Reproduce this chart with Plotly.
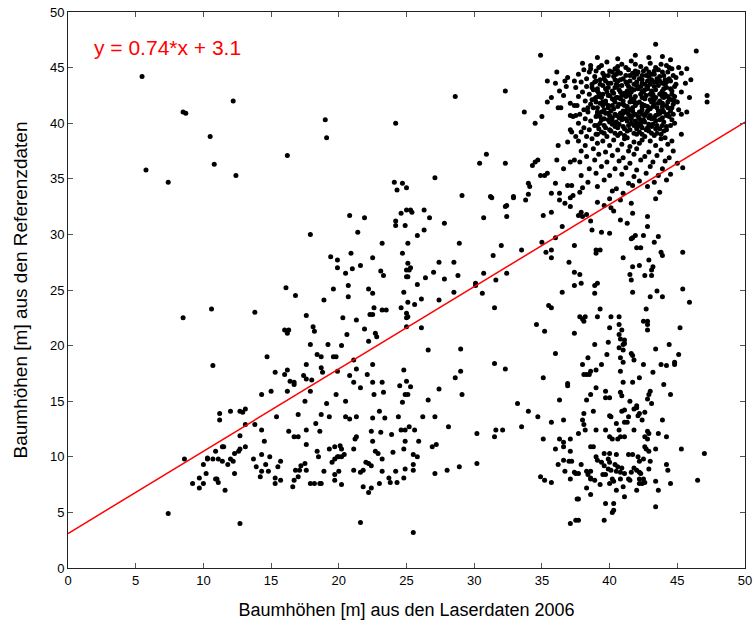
import plotly.graph_objects as go

# ---------------- data ----------------
upper_left = [(5.47,44.2),(5.76,35.8),(7.4,34.7),(8.5,41.0),(8.7,40.9),(10.5,38.8),(10.8,36.3),
    (12.2,42.0),(12.4,35.3),(19.0,40.3),(19.1,38.7),(16.2,37.1),(24.2,40.0),(24.1,34.7),(24.7,34.6),
    (24.3,34.0),(25.0,34.2),(8.5,22.5),(10.6,23.3),(10.7,18.2)]

upper_mid = [(34.9,46.1),(28.6,42.4),(32.3,42.9),(33.7,41.0),(34.5,40.0),(35.0,40.6),(30.9,37.2),
    (30.4,36.4),(32.3,36.4),(27.1,35.1),(29.1,33.5),(31.2,33.4),(32.9,33.4),
    (36.1,44.6),(35.4,43.8),(36.0,43.6),(36.7,43.8),(36.9,44.1),(37.4,43.8),(36.8,43.3),(36.3,42.9),
    (36.6,42.5),(35.7,42.3),(35.4,41.9),(36.2,41.4),(36.4,41.4),(37.1,41.8),(37.4,41.6),(37.1,40.7),
    (37.3,40.6),(37.5,40.7),(37.1,39.4),(37.2,39.2),(37.5,38.8),(36.9,38.3),(36.2,38.0),(36.1,36.7),
    (37.1,36.5),(37.4,36.7),(34.3,36.2),(34.5,36.5),(34.7,36.7),(36.6,35.9),(34.9,35.3),(35.2,35.3),
    (35.4,35.5),(36.0,34.6),(36.9,34.4),(37.2,34.4),(34.0,34.6),(34.1,34.3),(34.0,33.6),(35.7,33.7),
    (36.3,33.7),(37.3,33.5)]

middle_left = [(20.8,31.7),(21.9,31.5),(17.9,30.0),(21.4,30.2),(24.6,31.9),(24.2,31.2),(24.2,30.8),
    (24.9,30.8),(25.0,32.2),(23.2,29.2),(24.7,28.3),(20.9,28.3),(19.4,28.0),(19.9,27.7),(22.5,27.9),
    (19.9,27.0),(21.0,26.9),(21.6,27.2),(20.5,26.5),(23.1,26.7),(23.3,26.3),(25.0,26.8),(25.0,26.2),
    (16.1,25.2),(16.8,24.5),(19.6,25.1),(20.7,25.4),(22.2,25.1),(22.5,24.7),(20.7,24.4),(18.9,24.1),
    (24.8,24.8),(13.8,23.0),(22.6,23.4),(23.2,23.2),(23.5,23.2),(24.6,23.4),(22.3,22.8),(22.5,22.8),
    (25.0,22.9),(25.0,22.5),(17.6,22.7),(20.3,22.5),(21.3,22.3),(16.0,21.4),(16.3,21.4),(16.2,21.1),
    (18.1,21.7),(18.2,21.3),(20.6,21.0),(21.9,21.5),(22.7,21.1),(22.8,20.8),(22.2,20.4),(25.0,21.7),
    (17.9,20.1),(19.2,20.1),(20.2,20.0),(14.7,19.0),(18.4,19.2),(18.7,19.0),(19.6,19.0),(19.8,19.0),
    (21.1,18.7),(17.6,18.3),(18.7,18.0),(18.8,17.6),(19.9,17.7),(21.3,17.9),(22.5,18.3),(24.8,17.8),
    (15.3,17.6),(16.0,17.4),(16.2,17.8),(16.4,16.8),(16.7,16.7),(17.4,17.3),(17.6,17.0),(18.0,16.9),
    (20.8,17.3),(22.1,17.4),(21.1,16.7),(22.5,16.7),(23.2,16.7),(25.0,16.8)]

middle_center = [(25.3,32.2),(25.4,32.0),(26.3,32.2),(26.7,31.5),(31.3,33.3),(32.4,32.6),(32.3,32.5),
    (33.8,33.1),(32.9,33.3),(36.3,33.1),(37.1,33.3),(36.7,32.8),(37.1,32.5),(30.7,31.5),(32.4,31.6),
    (27.8,31.0),(35.1,31.7),(35.7,32.0),(37.7,31.7),(26.3,30.4),(25.8,29.9),(25.1,29.2),(28.9,29.2),
    (32.0,29.0),(31.4,28.1),(33.5,28.6),(35.0,29.3),(36.5,30.7),(36.0,29.7),(35.3,28.4),(35.7,28.6),
    (35.7,27.9),(37.4,29.0),(25.1,27.4),(25.3,27.0),(25.2,26.8),(27.4,27.5),(28.5,27.5),(27.0,26.6),
    (28.8,26.3),(26.4,26.1),(25.8,25.5),(25.1,26.2),(27.8,26.0),(30.7,26.5),(31.6,25.9),(32.4,26.5),
    (30.1,25.6),(30.1,25.4),(30.6,24.7),(28.5,24.8),(37.0,27.5),(37.4,26.6),(37.4,25.4),(36.5,24.8),
    (25.1,23.9),(25.6,23.7),(26.1,24.2),(27.4,24.1),(25.1,22.6),(26.1,21.6),(31.5,23.4),(35.5,23.6),
    (35.7,23.4),(34.6,21.9),(35.2,21.3),(37.4,21.1),(26.6,19.6),(29.0,19.7),(36.0,19.3),(31.5,18.4),
    (32.3,17.9),(29.0,17.7),(28.6,17.1),(35.1,17.1),(36.9,16.6)]

middle_right = [(39.1,32.9),(39.6,32.6),(40.0,33.2),(40.8,33.1),(41.6,32.8),(43.4,33.2),(40.1,32.4),
    (40.3,32.1),(37.9,32.0),(38.3,31.8),(38.0,31.6),(41.7,31.9),(42.8,31.6),(40.8,31.3),(41.3,31.0),
    (38.6,31.2),(42.8,30.7),(38.7,30.4),(39.4,30.2),(40.0,30.1),(41.9,29.9),(41.7,29.7),(41.6,29.6),
    (42.5,29.9),(43.6,29.8),(43.3,29.3),(42.0,28.8),(42.3,28.8),(39.0,28.6),(39.3,28.6),(39.0,28.3),
    (43.8,28.4),(43.9,28.1),(45.4,28.4),(41.0,27.9),(42.9,27.7),(42.2,27.2),(41.7,27.1),(43.2,27.1),
    (43.1,26.8),(37.8,26.4),(41.5,26.4),(41.6,25.9),(42.6,26.3),(43.1,26.3),(37.9,25.6),(38.9,25.4),
    (39.1,25.6),(38.9,24.7),(45.4,25.1),(41.7,24.8),(43.5,24.9),(43.9,24.4),(43.0,24.4),(45.9,23.9),
    (39.3,23.3),(42.7,23.3),(37.8,22.6),(38.0,22.4),(38.1,22.2),(38.2,22.6),(39.1,22.6),(40.1,22.6),
    (40.7,22.6),(42.5,22.2),(42.8,22.2),(42.8,21.9),(42.8,21.4),(40.7,21.9),(40.9,21.4),(40.0,21.6),
    (45.2,21.6),(40.7,21.0),(40.8,20.6),(41.1,20.5),(41.1,20.2),(41.0,20.1),(38.9,20.1),(39.9,20.3),
    (40.7,19.8),(41.0,19.6),(43.4,19.7),(44.4,20.1),(38.4,18.9),(39.8,19.2),(41.6,19.3),(41.7,19.1),
    (40.8,18.9),(41.0,18.5),(41.8,18.7),(45.1,19.2),(38.0,18.3),(39.4,18.3),(39.0,17.8),(38.6,17.7),
    (42.5,18.3),(43.8,18.3),(44.2,18.2),(44.8,18.3),(44.8,18.5),(40.8,17.7),(43.2,17.6),(38.1,17.4),
    (38.3,17.4),(38.5,17.4),(42.2,17.1),(41.0,16.7),(41.7,16.7)]

lower_left = [(11.2,13.9),(11.2,13.3),(12.0,14.1),(8.6,9.8),(7.4,4.9),(11.4,10.9),(11.5,10.9),
    (10.9,10.5),(10.3,9.9),(10.3,9.8),(10.7,9.8),(11.1,9.8),(11.4,9.6),(12.0,9.8),(12.2,9.6),
    (12.3,10.3),(10.0,9.3),(11.8,9.3),(10.2,8.5),(12.3,8.5),(9.7,8.1),(10.9,8.0),(11.0,8.0),
    (9.2,7.6),(10.0,7.6),(11.1,7.7),(9.7,7.2),(11.6,7.0)]

lower_mid = [(12.7,14.1),(12.9,14.0),(13.1,14.3),(14.3,15.6),(15.0,15.9),(16.2,15.9),(17.9,15.9),
    (16.7,16.5),(17.5,15.0),(19.8,15.6),(20.5,15.0),(19.1,14.8),(21.6,16.2),(22.6,15.6),(23.3,15.8),
    (24.5,16.4),(24.9,15.6),(24.7,14.9),(13.1,12.9),(13.8,12.9),(15.4,13.6),(17.0,13.8),(18.3,13.0),
    (18.7,13.8),(19.3,13.6),(20.5,13.6),(20.8,13.4),(21.3,13.6),(22.5,13.5),(23.0,14.1),(23.4,13.5),
    (24.4,13.6),(12.7,11.9),(12.6,10.5),(12.7,10.7),(13.1,10.9),(14.3,12.4),(14.5,11.4),(16.3,12.3),
    (16.7,11.8),(17.0,11.8),(17.6,12.4),(17.6,11.1),(18.6,12.3),(18.4,10.5),(18.5,10.0),(19.3,10.7),
    (19.7,10.9),(20.1,11.0),(20.2,10.7),(21.1,10.7),(21.2,11.6),(21.3,11.8),(22.4,12.3),(22.5,11.4),
    (23.1,12.2),(23.9,12.0),(24.6,12.4),(24.9,12.4),(24.9,11.4),(24.8,10.7),(22.7,10.5),(22.9,10.3),
    (24.0,10.4),(13.7,9.8),(14.3,10.2),(14.9,10.0),(15.7,9.6),(15.5,9.1),(13.9,9.1),(14.3,8.7),
    (14.6,9.3),(14.8,8.7),(14.2,8.2),(15.3,8.1),(15.3,7.6),(15.7,7.9),(16.8,8.8),(17.1,8.8),
    (17.2,9.2),(17.5,9.4),(17.6,8.8),(17.0,8.2),(16.7,7.9),(16.6,7.3),(17.9,7.6),(18.2,7.6),
    (18.6,7.6),(18.7,7.6),(18.9,8.7),(19.5,9.5),(19.7,9.8),(19.9,10.0),(20.0,10.0),(20.2,10.0),
    (20.4,10.2),(20.0,8.7),(19.7,8.4),(19.7,7.9),(20.2,7.5),(21.1,8.8),(21.6,8.6),(21.8,8.8),
    (21.8,7.3),(22.2,6.8),(22.4,7.2),(22.0,9.5),(22.2,9.4),(22.4,9.2),(23.2,9.8),(23.2,8.7),
    (23.0,7.6),(23.7,8.1),(23.8,7.7),(24.3,7.7),(24.2,8.7),(24.9,8.9),(24.8,8.1),(12.7,4.0),(21.6,4.1)]

lower_center = [(25.3,16.3),(25.1,15.6),(27.4,16.1),(26.6,15.1),(29.1,15.6),(26.2,13.6),(27.1,13.6),
    (25.2,12.7),(25.6,12.4),(28.1,12.7),(25.9,11.4),(26.9,10.9),(27.2,11.1),(25.5,10.2),(25.8,10.0),
    (25.5,9.3),(25.5,8.8),(27.1,8.5),(28.0,8.8),(28.9,9.1),(30.2,12.1),(30.2,9.4),(31.5,11.8),
    (31.6,12.4),(32.1,12.4),(33.2,14.8),(34.0,14.1),(34.7,13.6),(33.5,12.7),(35.1,11.6),(35.7,13.1),
    (36.3,15.1),(36.9,16.4),(36.6,13.3),(36.3,11.6),(36.6,11.3),(37.1,11.6),(36.0,10.7),(36.6,10.9),
    (37.1,10.5),(36.6,9.7),(37.0,9.6),(37.2,9.6),(36.2,9.3),(36.7,8.7),(37.4,8.6),(37.5,8.5),
    (37.1,8.0),(34.9,8.2),(35.2,7.9),(35.7,7.7),(37.6,6.2),(37.5,4.3),(37.1,4.0),(25.5,3.2)]

lower_right = [(39.0,16.2),(39.7,15.9),(39.7,15.3),(40.0,15.3),(38.6,15.6),(38.3,15.1),(40.8,15.8),
    (40.9,15.5),(41.5,15.0),(42.0,14.6),(42.0,14.4),(41.8,14.3),(42.8,15.2),(43.0,15.9),(42.9,15.6),
    (43.1,14.8),(44.0,16.5),(44.5,15.6),(38.8,14.1),(38.1,13.9),(38.0,13.3),(40.9,14.1),(41.1,14.2),
    (40.0,13.7),(40.1,13.6),(42.2,13.9),(42.1,13.7),(42.6,14.0),(41.4,13.6),(41.3,13.1),(41.1,13.1),
    (42.4,13.3),(43.9,13.3),(38.1,12.9),(38.2,12.4),(37.7,12.1),(39.0,12.4),(39.7,12.4),(40.5,13.0),
    (40.7,12.4),(41.8,12.4),(42.8,12.3),(42.9,12.1),(43.6,12.1),(44.2,11.8),(40.0,11.8),(40.2,11.6),
    (40.6,11.6),(40.8,11.8),(41.1,11.8),(42.6,11.8),(42.8,11.6),(38.6,10.9),(38.8,10.9),(42.6,10.9),
    (42.7,10.7),(42.9,10.5),(43.4,10.7),(45.3,10.7),(47.0,10.3),(39.6,10.3),(40.0,10.3),(40.5,10.2),
    (41.4,10.2),(41.7,10.2),(39.0,10.0),(39.1,9.7),(39.9,9.8),(40.0,9.5),(42.1,10.0),(42.2,9.6),
    (42.5,9.8),(43.0,9.6),(37.9,9.3),(39.4,9.5),(39.6,9.2),(40.4,9.3),(40.6,9.1),(40.9,9.0),
    (44.2,9.3),(44.3,8.8),(38.3,8.7),(38.6,8.7),(38.4,8.4),(39.9,8.9),(40.1,8.8),(40.5,8.7),
    (40.8,8.6),(41.1,8.5),(41.6,8.6),(41.8,9.0),(42.0,8.8),(42.2,8.6),(42.3,8.5),(42.9,8.9),
    (39.5,8.4),(39.7,8.4),(38.6,8.0),(38.9,7.9),(38.6,8.1),(40.2,8.0),(40.8,8.0),(41.4,8.0),
    (41.5,7.9),(42.2,8.0),(42.5,8.0),(42.6,7.7),(42.2,7.6),(42.4,7.6),(43.4,7.8),(44.5,7.6),
    (46.5,7.9),(37.7,8.5),(40.0,7.6),(40.3,7.8),(39.3,7.5),(38.3,7.2),(40.5,7.0),(41.0,7.3),
    (42.0,7.0),(43.6,7.0),(38.6,6.6),(41.1,6.4),(37.7,6.2),(39.7,5.8),(40.3,5.8),(40.2,5.0),
    (40.3,5.2),(43.4,5.5),(39.6,4.3),(37.7,4.3)]

cluster_edge = [(43.4,47.1),(46.4,46.5),(38.0,45.4),(42.9,45.9),(43.9,46.0),(47.2,42.5),(47.2,41.9),
    (45.3,40.8),(45.3,39.0),(40.6,45.8),(41.9,46.1),(44.5,45.7),(39.1,45.9),(45.7,44.9),(46.0,43.9),
    (45.9,42.3),(45.7,41.0)]

cluster_rows = [(38.6,45.2),(39.8,45.5),(40.9,45.3),(41.6,45.6),(42.3,45.1),(43.0,45.4),(44.2,45.2),(45.1,45.0),
    (38.1,44.8),(39.2,45.0),(40.4,44.9),(41.2,45.0),(41.9,44.7),(42.7,44.9),(43.4,45.0),(43.9,44.6),(44.6,44.9),
    (37.7,44.4),(38.5,44.6),(39.6,44.3),(40.0,44.7),(40.8,44.5),(41.5,44.3),(42.1,44.6),(43.1,44.4),
    (43.7,44.2),(44.3,44.6),(45.3,44.5),
    (38.3,44.0),(38.9,44.2),(39.3,43.9),(40.3,44.2),(41.0,44.0),(41.8,44.1),(42.4,43.9),(42.9,44.2),
    (43.5,44.0),(44.1,43.9),(44.9,44.1),
    (37.9,43.7),(38.7,43.5),(39.7,43.8),(40.1,43.6),(40.6,43.8),(41.3,43.5),(42.0,43.7),(42.6,43.5),
    (43.3,43.7),(43.9,43.6),(44.5,43.8),(45.6,43.6),
    (37.5,43.2),(38.3,43.3),(39.1,43.1),(39.5,43.4),(40.4,43.2),(40.9,43.4),(41.6,43.1),(42.3,43.3),
    (42.8,43.1),(43.6,43.4),(44.2,43.2),(44.8,43.3),
    (38.0,42.8),(38.8,43.0),(39.8,42.8),(40.2,42.9),(41.1,42.7),(41.8,43.0),(42.5,42.8),(43.1,42.9),
    (43.8,42.7),(44.6,42.9),(45.3,42.8),
    (37.7,42.4),(38.5,42.6),(39.2,42.4),(39.9,42.5),(40.6,42.3),(41.4,42.6),(41.9,42.4),(42.7,42.5),
    (43.4,42.3),(44.1,42.6),(44.8,42.4),
    (38.2,42.0),(38.9,42.2),(39.5,41.9),(40.3,42.1),(41.0,42.0),(41.6,42.2),(42.2,41.9),(43.0,42.1),
    (43.7,42.0),(44.4,42.2),(45.0,41.9),
    (37.6,41.6),(38.6,41.7),(39.3,41.8),(39.9,41.6),(40.7,41.7),(41.3,41.5),(42.0,41.8),(42.6,41.6),
    (43.3,41.7),(43.9,41.5),(44.7,41.7),
    (38.1,41.2),(38.8,41.4),(39.6,41.2),(40.3,41.3),(41.0,41.1),(41.7,41.4),(42.4,41.2),(43.0,41.3),
    (43.6,41.1),(44.3,41.4),(45.1,41.2),
    (37.8,40.8),(38.4,41.0),(39.1,40.8),(39.9,40.9),(40.5,40.7),(41.2,41.0),(41.9,40.8),(42.7,40.9),
    (43.4,40.7),(44.0,41.0),(44.7,40.8),
    (38.2,40.4),(39.0,40.6),(39.6,40.4),(40.2,40.5),(40.9,40.3),(41.5,40.6),(42.2,40.4),(42.9,40.5),
    (43.7,40.3),(44.4,40.6),
    (37.7,40.0),(38.6,40.2),(39.3,40.0),(40.0,40.1),(40.7,39.9),(41.3,40.2),(42.0,40.0),(42.6,40.1),
    (43.2,39.9),(44.0,40.1),(44.8,40.0),
    (38.1,39.6),(38.9,39.8),(39.7,39.6),(40.4,39.7),(41.1,39.5),(41.8,39.8),(42.4,39.6),(43.1,39.7),
    (43.7,39.5),(44.5,39.8),
    (37.9,39.2),(38.5,39.4),(39.4,39.2),(40.1,39.3),(40.8,39.1),(41.5,39.4),(42.2,39.2),(42.9,39.3),
    (43.5,39.1),(44.2,39.4),
    (38.3,38.8),(39.1,39.0),(39.8,38.8),(40.6,38.9),(41.3,38.7),(42.0,39.0),(42.6,38.8),(43.3,38.9),(44.1,38.7),
    (37.7,38.4),(38.7,38.6),(39.5,38.4),(40.3,38.5),(41.1,38.6),(41.8,38.3),(42.4,38.5),(43.0,38.4),
    (43.8,38.6),(44.6,38.4),
    (38.2,38.0),(39.1,38.2),(40.0,38.0),(40.9,38.1),(41.5,37.9),(42.2,38.2),(43.4,38.0),(44.3,38.1)]

cluster_fill = [(39.0,44.7),(40.2,44.6),(41.4,44.8),(42.5,44.7),(43.6,44.8),
    (39.9,44.3),(40.5,44.4),(41.2,44.3),(42.0,44.4),(42.7,44.3),(43.3,44.4),(44.7,44.3),
    (39.0,43.8),(39.6,44.0),(40.8,43.9),(41.5,43.8),(42.2,44.0),(43.1,43.9),(43.7,43.8),(44.4,44.0),
    (39.3,43.5),(39.9,43.6),(40.6,43.4),(41.8,43.5),(42.4,43.6),(43.0,43.5),(44.1,43.5),(44.9,43.5),
    (39.1,42.9),(39.9,43.2),(40.7,43.0),(41.3,42.9),(42.1,43.1),(42.8,43.3),(43.4,43.0),(44.0,43.1),
    (39.5,42.6),(40.3,42.7),(40.9,42.5),(41.6,42.8),(42.3,42.6),(43.2,42.6),(43.9,42.4),(44.6,42.6),
    (39.0,42.3),(39.7,42.0),(40.5,42.3),(41.2,42.4),(41.8,42.1),(42.6,42.2),(43.3,42.1),(44.0,42.3),(44.8,42.0),
    (39.0,41.9),(39.7,41.8),(40.4,41.9),(41.0,41.7),(41.8,41.9),(42.4,41.7),(43.1,41.9),(43.6,41.8),(44.3,41.9),
    (39.1,41.4),(39.9,41.4),(40.6,41.5),(41.3,41.3),(41.9,41.6),(42.8,41.5),(43.5,41.4),(44.2,41.6),
    (39.4,41.0),(40.1,41.1),(40.8,40.9),(41.5,41.2),(42.2,41.0),(42.8,41.1),(43.7,40.9),(44.5,41.1),
    (39.3,40.6),(40.0,40.7),(40.7,40.5),(41.4,40.8),(42.1,40.6),(42.6,40.7),(43.3,40.5),(44.2,40.7),
    (39.9,40.3),(40.5,40.1),(41.2,40.4),(41.9,40.2),(42.5,40.3),(43.4,40.2),(44.6,40.3),
    (39.1,39.8),(40.2,39.9),(41.0,39.7),(41.6,40.0),(42.3,39.8),(42.9,39.9),(43.9,39.8),
    (39.2,39.5),(40.0,39.4),(40.6,39.6),(41.3,39.3),(42.0,39.5),(42.7,39.4),(43.4,39.5),(44.0,39.3),
    (39.0,39.0),(39.6,39.1),(40.4,39.1),(41.1,38.9),(41.8,39.1),(42.4,39.0),(43.1,39.1),(43.8,39.0)]

cluster_core = [(39.4,45.2),(40.6,45.1),(41.9,45.3),(42.9,44.6),(43.8,45.3),(44.4,45.0),
    (38.6,44.9),(39.5,44.5),(40.6,44.7),(41.7,44.5),(42.4,44.3),(43.3,44.7),(44.0,44.3),
    (38.9,43.7),(40.4,43.9),(41.2,43.7),(42.0,43.4),(42.8,43.8),(43.5,43.7),(44.2,43.7),
    (38.7,43.2),(39.7,43.1),(40.5,43.5),(41.4,43.3),(42.6,43.0),(43.3,43.3),(43.9,42.9),(44.5,43.1),
    (39.2,42.7),(40.0,42.5),(40.8,42.8),(41.5,42.5),(42.4,42.9),(43.0,42.6),(43.7,42.6),(44.3,42.4),
    (38.7,42.1),(39.4,42.3),(40.2,42.2),(40.8,42.2),(41.5,41.9),(42.4,42.3),(43.2,42.4),(43.9,41.8),(44.6,42.1),
    (38.4,41.4),(39.5,41.6),(40.2,41.6),(41.1,41.6),(41.7,41.1),(42.4,41.5),(43.2,41.5),(43.9,41.2),(44.6,41.4),
    (39.1,41.0),(39.7,40.9),(40.4,40.8),(41.0,40.9),(41.7,40.7),(42.4,40.8),(43.0,40.7),(43.6,40.8),(44.3,40.8),
    (39.4,40.3),(40.2,40.2),(40.9,40.6),(41.6,40.4),(42.3,40.1),(43.1,40.4),(43.9,40.5),
    (39.6,39.8),(40.5,39.9),(41.4,39.8),(42.1,39.7),(42.8,39.6),(43.5,39.8),(44.2,39.7)]

cluster_base = [(37.9,37.5),(38.8,37.7),(39.7,37.4),(40.6,37.6),(41.4,37.5),(42.0,37.7),(42.9,37.4),
    (43.8,37.6),(44.7,37.5),
    (38.3,37.0),(39.2,37.2),(40.2,37.1),(41.0,36.9),(41.8,37.2),(42.6,37.0),(43.5,37.1),(44.4,36.9),
    (37.8,36.5),(38.9,36.7),(39.8,36.5),(40.7,36.6),(41.5,36.4),(42.3,36.7),(43.2,36.5),(44.1,36.6),(45.0,36.4),
    (38.5,35.9),(39.4,36.1),(40.4,35.9),(41.2,36.0),(42.0,35.8),(43.0,36.1),(43.9,35.9),(45.4,36.0),
    (37.9,35.3),(39.0,35.5),(40.0,35.3),(40.9,35.4),(41.8,35.2),(42.7,35.5),(43.6,35.3),(44.5,35.4),
    (38.4,34.7),(39.6,34.9),(41.4,34.6),(42.2,34.8),(43.3,34.7),(44.2,34.9),
    (38.0,34.2),(39.1,34.3),(40.5,34.1),(41.7,34.4),(42.8,34.3),
    (37.8,33.8),(40.2,33.9),(41.0,33.7),(43.7,33.8)]

fit_slope = 0.74
fit_intercept = 3.1
fit_label = "y = 0.74*x + 3.1"
x_ticks = [0, 5, 10, 15, 20, 25, 30, 35, 40, 45, 50]
y_ticks = [0, 5, 10, 15, 20, 25, 30, 35, 40, 45, 50]
x_title = "Baumhöhen [m] aus den Laserdaten 2006"
y_title = "Baumhöhen [m] aus den Referenzdaten"

groups = [upper_left, upper_mid, middle_left, middle_center, middle_right, lower_left,
          lower_mid, lower_center, lower_right, cluster_edge, cluster_rows, cluster_fill,
          cluster_core, cluster_base]
pts = [p for g in groups for p in g]
xs = [p[0] for p in pts]
ys = [p[1] for p in pts]

line_x = [x_ticks[0], x_ticks[-1]]
line_y = [fit_slope * v + fit_intercept for v in line_x]

FONT = "Liberation Sans, Arial, sans-serif"

fig = go.Figure()
fig.add_trace(go.Scatter(x=xs, y=ys, mode="markers",
                         marker=dict(color="black", size=5, line=dict(width=0)),
                         showlegend=False, hoverinfo="skip"))
fig.add_trace(go.Scatter(x=line_x, y=line_y, mode="lines",
                         line=dict(color="#ff0000", width=1.5),
                         showlegend=False, hoverinfo="skip"))

fig.add_annotation(x=1.75, y=46.85, xref="x", yref="y", text=fit_label, showarrow=False,
                   xanchor="left", yanchor="middle",
                   font=dict(family=FONT, size=21, color="#ff0000"))

axis_common = dict(showgrid=False, zeroline=False, showline=True, linecolor="#222222",
                   linewidth=1, mirror="allticks", ticks="inside", ticklen=5,
                   tickcolor="#555555", tickwidth=1, automargin=False,
                   tickfont=dict(family=FONT, size=13, color="black"))

fig.update_layout(
    width=754, height=623,
    paper_bgcolor="white", plot_bgcolor="white",
    margin=dict(l=68, r=9, t=12, b=55),
    xaxis=dict(range=[0, 50], tickvals=x_ticks,
               title=dict(text=x_title, font=dict(family=FONT, size=18, color="black"), standoff=16),
               **axis_common),
    yaxis=dict(range=[0, 50], tickvals=y_ticks,
               title=dict(text=y_title, font=dict(family=FONT, size=19, color="black"), standoff=17),
               **axis_common),
)

fig.write_html("out.html", config={"displayModeBar": False},
               post_script="document.body.style.margin='0px';document.body.style.overflow='hidden';")
